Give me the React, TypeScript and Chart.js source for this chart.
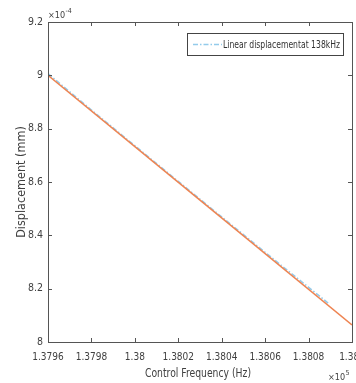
import React, { useEffect, useRef } from "react";
import { Chart, registerables } from "chart.js";

Chart.register(...registerables);

// Data (frequency in units of 1e5 Hz, displacement in units of 1e-4 mm)
const fitFreq = [1.3796, 1.3803, 1.381];
const fitDisp = [9.0, 8.532, 8.064];

const linFreq = [1.3796, 1.3798, 1.38, 1.3802, 1.3804, 1.3806, 1.3808, 1.38089];
const linDisp = [9.006, 8.870, 8.736, 8.602, 8.469, 8.336, 8.205, 8.146];

const legendLabel = "Linear displacementat 138kHz";
const xTitle = "Control Frequency (Hz)";
const yTitle = "Displacement (mm)";
const xExponent = "5";
const yExponent = "-4";

const FONT = '"Liberation Sans Narrow", "DejaVu Sans Condensed", Arial, sans-serif';
const TEXT = "#404040";
const ORANGE = "#EE8452";
const BLUE = "#93CBEB";

const fmt = (v: number) => String(Number(Number(v).toFixed(4)));

const framePlugin = {
  id: "frame",
  afterDatasetsDraw(chart: any) {
    const { ctx, chartArea: a, scales } = chart;
    const xs = scales.x;
    const ys = scales.y;
    ctx.save();
    ctx.strokeStyle = "#555555";
    ctx.lineWidth = 1;
    ctx.strokeRect(Math.round(a.left) + 0.5, Math.round(a.top) + 0.5, Math.round(a.right - a.left), Math.round(a.bottom - a.top));
    const tl = 4;
    ctx.beginPath();
    xs.ticks.forEach((t: any) => {
      const px = Math.round(xs.getPixelForValue(t.value)) + 0.5;
      ctx.moveTo(px, a.bottom);
      ctx.lineTo(px, a.bottom - tl);
      ctx.moveTo(px, a.top);
      ctx.lineTo(px, a.top + tl);
    });
    ys.ticks.forEach((t: any) => {
      const py = Math.round(ys.getPixelForValue(t.value)) + 0.5;
      ctx.moveTo(a.left, py);
      ctx.lineTo(a.left + tl, py);
      ctx.moveTo(a.right, py);
      ctx.lineTo(a.right - tl, py);
    });
    ctx.stroke();

    // axis titles (condensed to match narrow font)
    ctx.fillStyle = TEXT;
    ctx.textAlign = "center";
    ctx.textBaseline = "middle";
    ctx.font = `12.5px ${FONT}`;
    ctx.fillText(xTitle, (a.left + a.right) / 2 - 2, 374, 106);
    ctx.save();
    ctx.translate(22, (a.top + a.bottom) / 2);
    ctx.rotate(-Math.PI / 2);
    ctx.fillText(yTitle, 0, 0, 122);
    ctx.restore();

    // exponent labels
    ctx.textBaseline = "alphabetic";
    ctx.textAlign = "left";
    ctx.font = `9px ${FONT}`;
    ctx.fillText("\u00d710", a.left, a.top - 4);
    let w = ctx.measureText("\u00d710").width;
    ctx.font = `7px ${FONT}`;
    ctx.fillText(yExponent, a.left + w + 0.5, a.top - 9);

    ctx.font = `9px ${FONT}`;
    ctx.fillText("\u00d710", 328, 380);
    w = ctx.measureText("\u00d710").width;
    ctx.font = `7px ${FONT}`;
    ctx.fillText(xExponent, 328 + w + 0.5, 375);

    // legend
    const lx = 187, ly = 33, lw = 156, lh = 22;
    ctx.fillStyle = "#ffffff";
    ctx.fillRect(lx, ly, lw, lh);
    ctx.strokeStyle = "#444444";
    ctx.strokeRect(lx + 0.5, ly + 0.5, lw, lh);
    ctx.strokeStyle = BLUE;
    ctx.lineWidth = 1.6;
    ctx.setLineDash([5, 2, 1.5, 2]);
    ctx.beginPath();
    ctx.moveTo(lx + 6, ly + 11.5);
    ctx.lineTo(lx + 35, ly + 11.5);
    ctx.stroke();
    ctx.setLineDash([]);
    ctx.fillStyle = "#333333";
    ctx.font = `11px ${FONT}`;
    ctx.textBaseline = "middle";
    ctx.fillText(legendLabel, lx + 36, ly + 12, 117);
    ctx.restore();
  },
};

export default function App() {
  const ref = useRef<HTMLCanvasElement>(null);
  useEffect(() => {
    if (!ref.current) return;
    const chart = new Chart(ref.current, {
      type: "line",
      data: {
        datasets: [
          {
            label: "Fit",
            data: fitFreq.map((x, i) => ({ x, y: fitDisp[i] })),
            borderColor: ORANGE,
            borderWidth: 1.6,
            pointRadius: 0,
            fill: false,
          },
          {
            label: legendLabel,
            data: linFreq.map((x, i) => ({ x, y: linDisp[i] })),
            borderColor: BLUE,
            borderWidth: 1.6,
            borderDash: [5, 2, 1.5, 2],
            pointRadius: 0,
            fill: false,
          },
        ],
      },
      options: {
        animation: false,
        responsive: false,
        devicePixelRatio: 1,
        layout: { padding: { left: 0, top: 22, right: 28, bottom: 0 } },
        plugins: { legend: { display: false }, tooltip: { enabled: false } },
        scales: {
          x: {
            type: "linear",
            min: 1.3796,
            max: 1.381,
            grid: { display: false, drawTicks: false },
            border: { display: false },
            ticks: {
              stepSize: 0.0002,
              autoSkip: false,
              maxRotation: 0,
              padding: 9,
              color: TEXT,
              font: { family: FONT, size: 10 },
              callback: (v: any) => fmt(v),
            },
            afterFit: (s: any) => {
              s.height = 41;
            },
          },
          y: {
            type: "linear",
            min: 8,
            max: 9.2,
            grid: { display: false, drawTicks: false },
            border: { display: false },
            ticks: {
              stepSize: 0.2,
              padding: 5,
              color: TEXT,
              font: { family: FONT, size: 10.5 },
              callback: (v: any) => fmt(v),
            },
            afterFit: (s: any) => {
              s.width = 48;
            },
          },
        },
      },
      plugins: [framePlugin],
    });
    return () => chart.destroy();
  }, []);
  return (
    <div style={{ position: "fixed", left: 0, top: 0, width: 356, height: 383, overflow: "hidden", background: "#fff" }}>
      <canvas ref={ref} width={380} height={383} style={{ display: "block" }} />
    </div>
  );
}
